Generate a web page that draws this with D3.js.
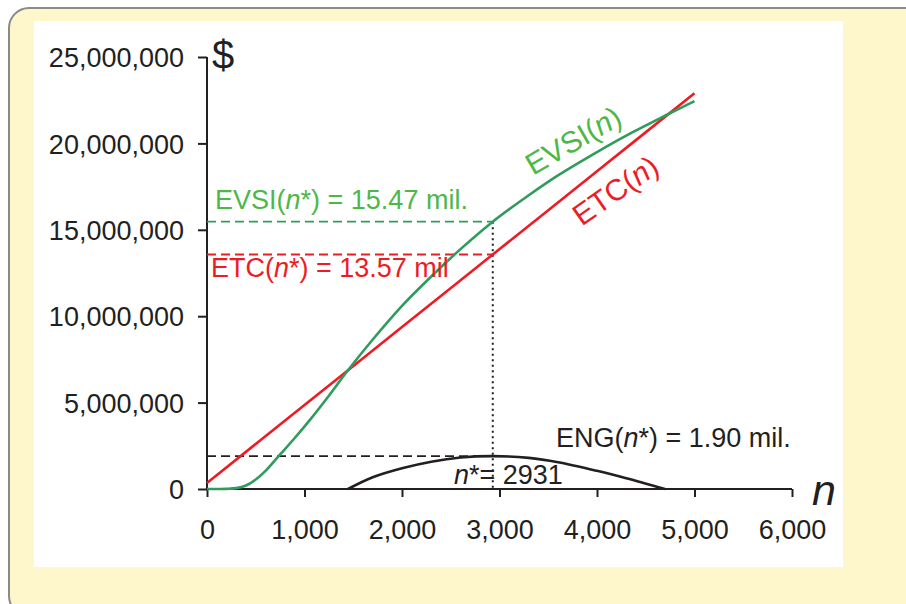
<!DOCTYPE html>
<html>
<head>
<meta charset="utf-8">
<script src="https://cdn.jsdelivr.net/npm/d3@7/dist/d3.min.js"></script>
<style>
  html, body { margin: 0; padding: 0; background: #ffffff; }
  svg { display: block; font-family: "Liberation Sans", Arial, sans-serif; }
</style>
</head>
<body>
<svg id="chart" width="906" height="604"></svg>
<script>
// Sample size n and the value curves (in millions of $)
const xTicks = [0, 1000, 2000, 3000, 4000, 5000, 6000];
const yTicks = [0, 5, 10, 15, 20, 25];

const evsiN      = [0, 200, 300, 400, 500, 600, 750, 900, 1056, 1250, 1446, 1700, 2000, 2300, 2600, 2931, 3300, 3600, 4000, 4300, 4697, 5000];
const evsiValues = [0, 0.01, 0.05, 0.2, 0.55, 1.05, 2.0, 2.95, 4.0, 5.4, 6.87, 8.65, 10.6, 12.3, 13.88, 15.47, 17.0, 18.15, 19.5, 20.45, 21.6, 22.45];

const etcN      = [0, 1000, 2000, 2931, 4000, 5000];
const etcValues = [0.35, 4.86, 9.37, 13.57, 18.39, 22.9];

const engN      = [1446, 1700, 2000, 2300, 2600, 2931, 3300, 3600, 4000, 4300, 4697];
const engValues = [0, 0.68, 1.2, 1.58, 1.82, 1.90, 1.8, 1.55, 1.05, 0.62, 0];

// Optimum
const nStar = 2931;
const evsiStar = 15.47;
const etcStar = 13.57;
const engStar = 1.90;

const RED = "#ed1c24";
const GREEN = "#2f9b5c";
const GREEN_TEXT = "#4db848";
const INK = "#231f20";
const FONT = 27;

const svg = d3.select("#chart");

// Panel frame
svg.append("rect")
  .attr("x", 9).attr("y", 8).attr("width", 940).attr("height", 608)
  .attr("rx", 20).attr("ry", 20)
  .attr("fill", "#fdf7cb").attr("stroke", "#8a8a8a").attr("stroke-width", 2);
svg.append("rect")
  .attr("x", 34).attr("y", 21).attr("width", 809).attr("height", 546)
  .attr("fill", "#ffffff");

const x = d3.scaleLinear().domain([0, 6000]).range([207, 792]);
const y = d3.scaleLinear().domain([0, 25]).range([489, 57]);

const fmt = d3.format(",");

// Axes
const yAxis = d3.axisLeft(y).tickValues(yTicks).tickSize(9).tickPadding(14)
  .tickFormat(d => fmt(d * 1e6));
const gy = svg.append("g").attr("transform", `translate(${x(0)},0)`).call(yAxis);
const xAxis = d3.axisBottom(x).tickValues(xTicks).tickSize(8).tickPadding(23)
  .tickFormat(fmt);
const gx = svg.append("g").attr("transform", `translate(0,${y(0)})`).call(xAxis);

[gx, gy].forEach(g => {
  g.select(".domain").attr("stroke", INK).attr("stroke-width", 2);
  g.selectAll(".tick line").attr("stroke", INK).attr("stroke-width", 2);
  g.selectAll(".tick text").attr("fill", INK)
    .style("font-size", FONT + "px").style("font-family", "'Liberation Sans', Arial, sans-serif");
});
gy.select(".domain").attr("d", `M0,${y(25)}V${y(0)}`);
gx.select(".domain").attr("d", `M${x(0)},0H${x(6000)}`);
gy.selectAll(".tick text").attr("dy", "0.36em");
gx.selectAll(".tick text").attr("dy", "0.71em");

// Axis titles
svg.append("text").attr("x", 212).attr("y", 69).attr("fill", INK)
  .style("font-size", "40px").text("$");
svg.append("text").attr("x", 812).attr("y", 505).attr("fill", INK)
  .style("font-size", "43px").style("font-style", "italic").text("n");

// Reference lines at the optimum
function hline(v, color) {
  svg.append("line")
    .attr("x1", x(0)).attr("x2", x(nStar)).attr("y1", y(v)).attr("y2", y(v))
    .attr("stroke", color).attr("stroke-width", 1.8).attr("stroke-dasharray", "9,5");
}
hline(evsiStar, GREEN);
hline(etcStar, RED);
hline(engStar, INK);
svg.append("line")
  .attr("x1", x(nStar)).attr("x2", x(nStar)).attr("y1", y(evsiStar)).attr("y2", y(0))
  .attr("stroke", INK).attr("stroke-width", 2).attr("stroke-dasharray", "2,3.5");

// Curves
const line = d3.line().x(d => x(d[0])).y(d => y(d[1])).curve(d3.curveCatmullRom.alpha(0.5));
const draw = (ns, vs, color) => svg.append("path")
  .datum(ns.map((n, i) => [n, vs[i]]))
  .attr("d", line).attr("fill", "none")
  .attr("stroke", color).attr("stroke-width", 2.6).attr("stroke-linejoin", "round");
draw(engN, engValues, INK);
draw(etcN, etcValues, RED);
draw(evsiN, evsiValues, GREEN);

// Annotations
function label(xp, yp, color, parts, anchor, size) {
  const t = svg.append("text").attr("x", xp).attr("y", yp).attr("fill", color)
    .attr("text-anchor", anchor || "start").style("font-size", (size || FONT) + "px");
  parts.forEach(p => {
    t.append("tspan").style("font-style", p.i ? "italic" : "normal").text(p.t);
  });
  return t;
}
label(215, 209, GREEN_TEXT, [{t: "EVSI("}, {t: "n", i: 1}, {t: "*) = " + evsiStar.toFixed(2) + " mil."}]);
label(211, 277, RED, [{t: "ETC("}, {t: "n", i: 1}, {t: "*) = " + etcStar.toFixed(2) + " mil"}]);
label(556, 447, INK, [{t: "ENG("}, {t: "n", i: 1}, {t: "*) = " + engStar.toFixed(2) + " mil."}]);
label(454, 484, INK, [{t: "n", i: 1}, {t: "*= " + nStar}]);

label(0, 0, GREEN_TEXT, [{t: "EVSI("}, {t: "n", i: 1}, {t: ")"}], "middle", 30)
  .attr("dominant-baseline", "central")
  .attr("transform", "translate(573,140) rotate(-30)");
label(0, 0, RED, [{t: "ETC("}, {t: "n", i: 1}, {t: ")"}], "middle", 30)
  .attr("dominant-baseline", "central")
  .attr("transform", "translate(615,190) rotate(-35)");
</script>
</body>
</html>
